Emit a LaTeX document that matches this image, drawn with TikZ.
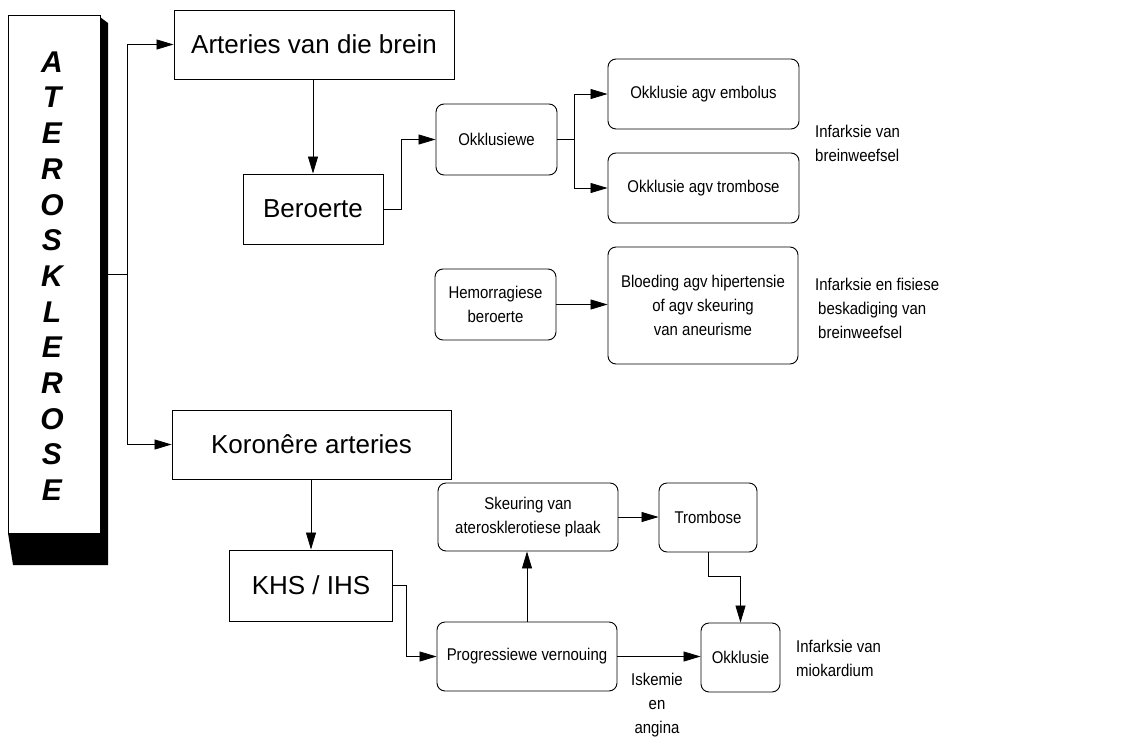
\documentclass[tikz,border=0pt]{standalone}
\usepackage{fontspec}
\setmainfont{Liberation Sans}
\newfontfamily\nar[FakeStretch=0.88]{Liberation Sans}
\usetikzlibrary{arrows.meta}
\tikzset{
  sqbox/.style={draw, line width=0.9pt, inner sep=0pt, font=\fontsize{26}{30}\selectfont},
  rbox/.style={draw, line width=0.9pt, rounded corners=8pt, inner sep=0pt, align=center, font=\nar\fontsize{17}{24}\selectfont},
  note/.style={inner sep=0pt, align=left, font=\nar\fontsize{17}{24}\selectfont},
  arr/.style={line width=0.8pt, -{Triangle[length=17pt,width=10pt]}},
  letter/.style={inner sep=0pt, font=\fontsize{30}{30}\selectfont\bfseries\itshape}
}
\begin{document}
\begin{tikzpicture}[x=1pt,y=-1pt]
\useasboundingbox (0,0) rectangle (1125,739);
% 3D shaded main box
\fill[black] (100,17) -- (108,23) -- (108,565) -- (13,565) -- (8,533) -- (100,533) -- cycle;
\node[draw, line width=0.9pt, fill=white, minimum width=92pt, minimum height=518pt, inner sep=0pt] (ath) at (54,274) {};
\foreach \L [count=\i from 0] in {A,T,E,R,O,S,K,L,E,R,O,S,E} {
  \node[letter] (let\i) at (52,{62+\i*35.67}) {\L};
}
% top branch
\node[sqbox, minimum width=280pt, minimum height=69pt] (art) at (314,44.5) {Arteries van die brein};
\node[sqbox, minimum width=140pt, minimum height=70pt] (ber) at (313,209) {Beroerte};
\node[rbox, minimum width=121pt, minimum height=71pt] (okw) at (496.5,139.5) {Okklusiewe};
\node[rbox, minimum width=191pt, minimum height=70pt] (emb) at (703.5,94) {Okklusie agv embolus};
\node[rbox, minimum width=191pt, minimum height=70pt] (trm) at (703.5,188) {Okklusie agv trombose};
\node[note, anchor=west] (inf1) at (815,143) {Infarksie van\\breinweefsel};
\node[rbox, minimum width=121pt, minimum height=71pt] (hem) at (495.5,304.5) {Hemorragiese\\beroerte};
\node[rbox, minimum width=190pt, minimum height=117pt] (blo) at (703,305.5) {Bloeding agv hipertensie\\of agv skeuring\\van aneurisme};
\node[note, anchor=west] (inf2) at (815,308) {Infarksie en fisiese\\\hspace{3pt}beskadiging van\\\hspace{3pt}breinweefsel};
% bottom branch
\node[sqbox, minimum width=279pt, minimum height=69pt] (kor) at (311.5,444.5) {Koron\^ere arteries};
\node[sqbox, minimum width=163pt, minimum height=71pt] (khs) at (311,585.5) {KHS / IHS};
\node[rbox, minimum width=180pt, minimum height=69pt] (pro) at (527,656.5) {Progressiewe vernouing};
\node[rbox, minimum width=180pt, minimum height=68pt] (ske) at (528,517) {Skeuring van\\ateroskl\-erotiese plaak};
\node[rbox, minimum width=98pt, minimum height=69pt] (trb) at (708,517.5) {Trombose};
\node[rbox, minimum width=79pt, minimum height=69pt] (okl) at (740.5,657.5) {Okklusie};
\node[note, align=center] (isk) at (657,705) {Iskemie\\en\\angina};
\node[note, anchor=west] (inf3) at (796,658) {Infarksie van\\miokardium};
% connectors
\draw[arr] ([xshift=7pt]ath.east) -- ++(20,0) |- (art.west);
\draw[arr] ([xshift=7pt]ath.east) -- ++(20,0) |- (kor.west);
\draw[arr] (art.south -| ber.north) -- (ber.north);
\draw[arr] (ber.east) -- ++(18,0) |- (okw.west);
\draw[arr] (okw.east) -- ++(17,0) |- (emb.west);
\draw[arr] (okw.east) -- ++(17,0) |- (trm.west);
\draw[arr] (hem.east) -- (hem.east -| blo.west);
\draw[arr] (kor.south -| khs.north) -- (khs.north);
\draw[arr] (khs.east) -- ++(13,0) |- (pro.west);
\draw[arr] (pro.north) -- (pro.north |- ske.south);
\draw[arr] (ske.east) -- (ske.east -| trb.west);
\draw[arr] (trb.south) -- ++(0,24) -| (okl.north);
\draw[arr] (pro.east) -- (pro.east -| okl.west);
\end{tikzpicture}
\end{document}
